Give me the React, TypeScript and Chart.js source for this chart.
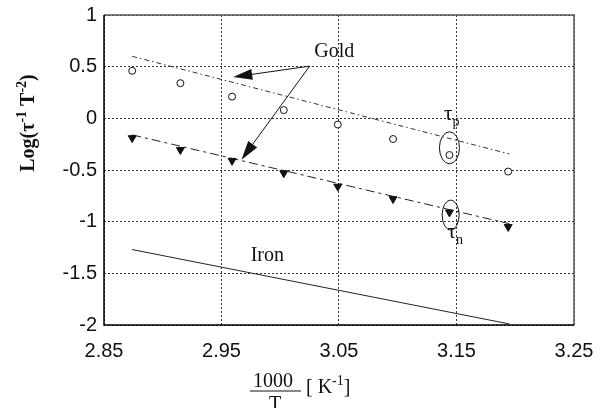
import React, { useEffect, useRef } from "react";
import { Chart, registerables } from "chart.js";

Chart.register(...registerables);

// ---- data ----
const xTicks = [2.85, 2.95, 3.05, 3.15, 3.25];
const yTicks = [1, 0.5, 0, -0.5, -1, -1.5, -2];
const invT = [2.874, 2.915, 2.959, 3.003, 3.049, 3.096, 3.144, 3.194];
const tauP = [0.46, 0.34, 0.21, 0.08, -0.06, -0.2, -0.355, -0.515];
const tauN = [-0.19, -0.305, -0.41, -0.53, -0.66, -0.78, -0.91, -1.05];
const fitX = [2.874, 3.195];
const tauPFit = [0.6, -0.345];
const tauNFit = [-0.16, -1.02];
const ironFit = [-1.27, -1.99];

// annotation anchors in data coordinates
const goldLabel = { x: 3.046, y: 0.64 };
const arrowFrom = { x: 3.025, y: 0.505 };
const arrowTips = [
  { x: 2.96, y: 0.4 },
  { x: 2.967, y: -0.4 },
];
const tauPEllipse = { x: 3.144, y: -0.285 };
const tauNEllipse = { x: 3.145, y: -0.936 };
const tauPLabel = { x: 3.146, y: -0.016 };
const tauNLabel = { x: 3.149, y: -1.158 };
const ironLabel = { x: 2.989, y: -1.333 };

const SERIF = "'Liberation Serif', 'Times New Roman', serif";
const SANS = "'Liberation Sans', Arial, sans-serif";

type Seg = { t: string; sup?: boolean; sub?: boolean };

function drawSegs(ctx: CanvasRenderingContext2D, segs: Seg[], x: number, y: number, size: number, weight: string, align: "left" | "center") {
  const small = Math.round(size * 0.68);
  const fontFor = (s: Seg) => `${weight} ${s.sup || s.sub ? small : size}px ${SERIF}`;
  let total = 0;
  const widths = segs.map((s) => {
    ctx.font = fontFor(s);
    const w = ctx.measureText(s.t).width;
    total += w;
    return w;
  });
  let cx = align === "center" ? x - total / 2 : x;
  ctx.textAlign = "left";
  ctx.textBaseline = "alphabetic";
  segs.forEach((s, i) => {
    ctx.font = fontFor(s);
    const dy = s.sup ? -size * 0.42 : s.sub ? size * 0.28 : 0;
    ctx.fillText(s.t, cx, y + dy);
    cx += widths[i];
  });
}

const annotPlugin = {
  id: "annot",
  afterDraw(chart: any) {
    const { ctx, chartArea: a } = chart;
    const xs = chart.scales.x;
    const ys = chart.scales.y;
    const px = (v: number) => xs.getPixelForValue(v);
    const py = (v: number) => ys.getPixelForValue(v);
    ctx.save();
    // frame
    ctx.setLineDash([]);
    ctx.lineWidth = 1.5;
    ctx.strokeStyle = "#555";
    ctx.beginPath();
    ctx.moveTo(a.left, a.top);
    ctx.lineTo(a.right, a.top);
    ctx.lineTo(a.right, a.bottom);
    ctx.stroke();
    ctx.strokeStyle = "#000";
    ctx.beginPath();
    ctx.moveTo(a.left, a.top);
    ctx.lineTo(a.left, a.bottom);
    ctx.lineTo(a.right, a.bottom);
    ctx.stroke();

    ctx.fillStyle = "#111";
    ctx.strokeStyle = "#111";
    // Gold label
    ctx.font = `20px ${SERIF}`;
    ctx.textAlign = "center";
    ctx.textBaseline = "middle";
    ctx.fillText("Gold", px(goldLabel.x), py(goldLabel.y));
    // arrows
    const fx = px(arrowFrom.x);
    const fy = py(arrowFrom.y);
    arrowTips.forEach((t) => {
      const tx = px(t.x);
      const ty = py(t.y);
      const ang = Math.atan2(ty - fy, tx - fx);
      const L = 19;
      const W = 5.5;
      ctx.lineWidth = 1;
      ctx.beginPath();
      ctx.moveTo(fx, fy);
      ctx.lineTo(tx - Math.cos(ang) * L * 0.8, ty - Math.sin(ang) * L * 0.8);
      ctx.stroke();
      const bx = tx - Math.cos(ang) * L;
      const by = ty - Math.sin(ang) * L;
      ctx.beginPath();
      ctx.moveTo(tx, ty);
      ctx.lineTo(bx + Math.sin(ang) * W, by - Math.cos(ang) * W);
      ctx.lineTo(bx - Math.sin(ang) * W, by + Math.cos(ang) * W);
      ctx.closePath();
      ctx.fill();
    });
    // ellipses
    ctx.lineWidth = 1;
    ctx.beginPath();
    ctx.ellipse(px(tauPEllipse.x), py(tauPEllipse.y), 10, 16, 0, 0, Math.PI * 2);
    ctx.stroke();
    ctx.beginPath();
    ctx.ellipse(px(tauNEllipse.x), py(tauNEllipse.y), 8.5, 15, 0, 0, Math.PI * 2);
    ctx.stroke();
    // tau labels
    drawSegs(ctx, [{ t: "τ" }, { t: "p", sub: true }], px(tauPLabel.x), py(tauPLabel.y), 21, "normal", "center");
    drawSegs(ctx, [{ t: "τ" }, { t: "n", sub: true }], px(tauNLabel.x), py(tauNLabel.y), 21, "normal", "center");
    // Iron
    ctx.font = `20px ${SERIF}`;
    ctx.textAlign = "center";
    ctx.textBaseline = "middle";
    ctx.fillText("Iron", px(ironLabel.x), py(ironLabel.y));

    // y title
    ctx.save();
    ctx.translate(27, 123);
    ctx.rotate(-Math.PI / 2);
    drawSegs(
      ctx,
      [{ t: "Log(τ" }, { t: "-1", sup: true }, { t: " T" }, { t: "-2", sup: true }, { t: ")" }],
      0,
      7,
      20,
      "bold",
      "center"
    );
    ctx.restore();

    // x title
    ctx.font = `20px ${SERIF}`;
    ctx.textAlign = "center";
    ctx.textBaseline = "alphabetic";
    ctx.fillText("1000", 273, 387);
    ctx.lineWidth = 1;
    ctx.beginPath();
    ctx.moveTo(250, 391);
    ctx.lineTo(301, 391);
    ctx.stroke();
    ctx.fillText("T", 275, 410);
    drawSegs(ctx, [{ t: "[ K" }, { t: "-1", sup: true }, { t: "]" }], 306, 393, 20, "normal", "left");
    ctx.restore();
  },
};

export default function App() {
  const ref = useRef<HTMLCanvasElement | null>(null);
  useEffect(() => {
    document.body.style.margin = "0";
    const canvas = ref.current!;
    const pts = (xsArr: number[], ysArr: number[]) => xsArr.map((x, i) => ({ x, y: ysArr[i] }));
    const chart = new Chart(canvas, {
      type: "scatter",
      data: {
        datasets: [
          {
            label: "tau_p",
            data: pts(invT, tauP),
            pointStyle: "circle",
            pointRadius: 3.5,
            pointBorderWidth: 1,
            pointBackgroundColor: "#fff",
            pointBorderColor: "#111",
            showLine: false,
          },
          {
            label: "tau_n",
            data: pts(invT, tauN),
            pointStyle: "triangle",
            rotation: 180,
            pointRadius: 4.6,
            pointBorderWidth: 1,
            pointBackgroundColor: "#111",
            pointBorderColor: "#111",
            showLine: false,
          },
          {
            label: "tau_p fit",
            data: pts(fitX, tauPFit),
            showLine: true,
            pointRadius: 0,
            borderColor: "#333",
            borderWidth: 1,
            borderDash: [5, 3, 1.5, 3],
          },
          {
            label: "tau_n fit",
            data: pts(fitX, tauNFit),
            showLine: true,
            pointRadius: 0,
            borderColor: "#222",
            borderWidth: 1,
            borderDash: [9, 4, 3, 4],
          },
          {
            label: "iron",
            data: pts(fitX, ironFit),
            showLine: true,
            pointRadius: 0,
            borderColor: "#222",
            borderWidth: 1,
          },
        ],
      },
      options: {
        animation: false,
        responsive: false,
        devicePixelRatio: 1,
        layout: { padding: { left: 0, right: 28, top: 15, bottom: 0 } },
        plugins: { legend: { display: false }, tooltip: { enabled: false } },
        scales: {
          x: {
            type: "linear",
            min: 2.85,
            max: 3.25,
            afterBuildTicks: (s: any) => {
              s.ticks = xTicks.map((v) => ({ value: v }));
            },
            afterFit: (s: any) => {
              s.height = 83;
              s.paddingLeft = 0;
              s.paddingRight = 0;
            },
            ticks: {
              callback: (v: any) => Number(v).toFixed(2),
              color: "#111",
              font: { family: SANS, size: 20 },
              padding: 14,
              maxRotation: 0,
            },
            grid: { color: "#333", lineWidth: 1, drawTicks: false },
            border: { display: false, dash: [2, 2] },
          },
          y: {
            type: "linear",
            min: -2,
            max: 1,
            afterBuildTicks: (s: any) => {
              s.ticks = yTicks.map((v) => ({ value: v }));
            },
            afterFit: (s: any) => {
              s.width = 104;
              s.paddingTop = 0;
              s.paddingBottom = 0;
            },
            ticks: {
              callback: (v: any) => String(Math.round(Number(v) * 10) / 10),
              color: "#111",
              font: { family: SANS, size: 20 },
              padding: 7,
            },
            grid: { color: "#333", lineWidth: 1, drawTicks: false },
            border: { display: false, dash: [2, 2] },
          },
        },
      },
      plugins: [annotPlugin],
    });
    return () => chart.destroy();
  }, []);
  return (
    <div style={{ position: "absolute", left: 0, top: 0, width: 602, height: 408 }}>
      <canvas ref={ref} width={602} height={408} />
    </div>
  );
}
